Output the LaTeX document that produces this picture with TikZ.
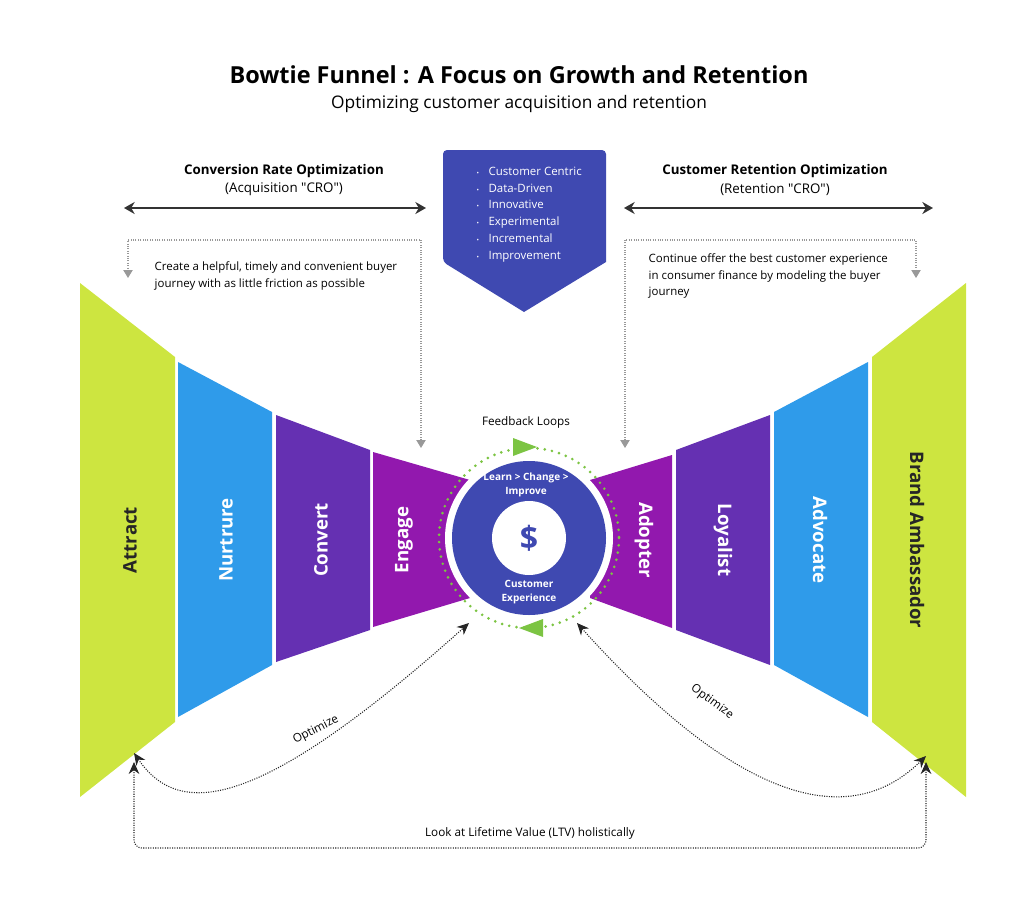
\documentclass[tikz,border=0pt]{standalone}
\usepackage{fontspec}
\setmainfont{Open Sans}
\usetikzlibrary{arrows.meta, positioning}
\definecolor{lime}{HTML}{CDE540}
\definecolor{skyb}{HTML}{2F9BEA}
\definecolor{violet}{HTML}{6530B2}
\definecolor{magen}{HTML}{9218AE}
\definecolor{indigo}{HTML}{3F49B1}
\definecolor{leaf}{HTML}{7CC443}
\tikzset{
  stage/.style={font=\bfseries\fontsize{14}{16}\selectfont, text=white, rotate=90},
  stagedark/.style={stage, text=black!85},
  stageR/.style={stage, rotate=-180},
  note/.style={font=\fontsize{8.6}{12.5}\selectfont, align=left, anchor=north west},
  head/.style={font=\fontsize{10}{14}\selectfont, align=center},
  guide/.style={gray!80, densely dotted, thick, {Triangle[length=6pt,width=7pt]}-{Triangle[length=6pt,width=7pt]}},
  loop/.style={black!85, densely dotted, thick, {Stealth[length=9pt,width=8pt]}-{Stealth[length=9pt,width=8pt]}},
  span/.style={black!80, line width=1.6pt, {Stealth[length=8pt,width=9pt]}-{Stealth[length=8pt,width=9pt]}}
}
\newcommand{\qq}{\textquotedbl}
\newcommand{\dotitem}{{\fontsize{5}{5}\selectfont\textbullet}\hspace{7pt}}
\begin{document}
\begin{tikzpicture}[x=0.75pt, y=-0.75pt]
\useasboundingbox (0,0) rectangle (1024,896);
% titles
\node (title) at (519,75) {\bfseries\fontsize{17.6}{19}\selectfont Bowtie Funnel : A Focus on Growth and Retention};
\node (sub) at (519,104) {\fontsize{13}{15}\selectfont Optimizing customer acquisition and retention};
% left funnel
\fill[lime] (80,283) -- (175,357) -- (175,722) -- (80,797) -- cycle;
\fill[skyb] (178,362) -- (272,412) -- (272,665) -- (178,717) -- cycle;
\fill[violet] (276,415) -- (370,450) -- (370,630) -- (276,662) -- cycle;
\fill[magen] (373,452) -- (470,480) -- (470,598) -- (373,627) -- cycle;
% right funnel
\fill[magen] (590,480) -- (672,455) -- (672,628) -- (590,598) -- cycle;
\fill[violet] (676,450) -- (770,415) -- (770,665) -- (676,630) -- cycle;
\fill[skyb] (774,412) -- (868,362) -- (868,717) -- (774,665) -- cycle;
\fill[lime] (872,357) -- (966,283) -- (966,797) -- (872,722) -- cycle;
\node[stagedark] (attract) at (130,540) {Attract};
\node[stage] (nurture) at (226,540) {Nurtrure};
\node[stage] (convert) at (321,540) {Convert};
\node[stage] (engage) at (404,540) {Engage};
\node[stageR] (adopter) at (644,540) {Adopter};
\node[stageR] (loyalist) at (723,540) {Loyalist};
\node[stageR] (advocate) at (820,540) {Advocate};
\node[stageR, text=black!85] (brand) at (917,540) {Brand Ambassador};
% centre hub
\fill[white] (529,538) circle (84);
\draw[leaf, line width=2.2pt, dash pattern=on 0pt off 5.5pt, line cap=round] (529,538) circle (90);
\fill[leaf] (513,438) -- (537,447) -- (513,456) -- cycle;
\fill[leaf] (543,619) -- (519,628) -- (543,637) -- cycle;
\fill[indigo] (529,538) circle (77);
\fill[white] (529,538) circle (37);
\node (fb) at (526,422) {\fontsize{8.8}{10}\selectfont Feedback Loops};
\node[text=white, align=center, font=\bfseries\fontsize{7.5}{10}\selectfont] (learn) at (526,485) {Learn > Change >\\Improve};
\node[text=indigo, font=\bfseries\fontsize{24}{26}\selectfont] (dollar) at (529,538) {\$};
\node[text=white, align=center, font=\bfseries\fontsize{7.5}{10}\selectfont] (cx) at (529,592) {Customer\\Experience};
% value badge
\fill[indigo, rounded corners=3pt] (606,262) -- (606,150) -- (443,150) -- (443,262) [sharp corners] -- (524,312) -- cycle;
\node[note, text=white, font=\fontsize{8.6}{12.7}\selectfont] (values) at (472,162)
 {\dotitem Customer Centric\\ \dotitem Data-Driven\\ \dotitem Innovative\\ \dotitem Experimental\\ \dotitem Incremental\\ \dotitem Improvement};
% headings
\node[head] (cro) at (284,180) {\bfseries Conversion Rate Optimization\\(Acquisition \qq CRO\qq)};
\node[head] (crr) at (775,180) {\bfseries Customer Retention Optimization\\(Retention \qq CRO\qq)};
\coordinate (a1) at (124,208); \coordinate (a2) at (426,208);
\coordinate (b1) at (624,208); \coordinate (b2) at (933,208);
\draw[span] (a1) -- (a2);
\draw[span] (b1) -- (b2);
% guide notes
\node[note] (tipL) at (150,257) {Create a helpful, timely and convenient buyer\\journey with as little friction as possible};
\node[note] (tipR) at (644,249) {Continue offer the best customer experience\\in consumer finance by modeling the buyer\\journey};
\coordinate (gL1) at (421,448); \coordinate (gL2) at (128,278);
\coordinate (gR1) at (625,448); \coordinate (gR2) at (916,278);
\draw[guide] (gL1) |- (270,240) -| (gL2);
\draw[guide] (gR1) |- (770,240) -| (gR2);
% optimize loops
\coordinate (oL1) at (134,753); \coordinate (oL2) at (469,623);
\coordinate (oR1) at (577,623); \coordinate (oR2) at (926,756);
\draw[loop] (oL1) .. controls (180,820) and (260,810) .. (oL2);
\draw[loop] (oR1) .. controls (700,760) and (830,850) .. (oR2);
\node[rotate=27, font=\fontsize{8.8}{10}\selectfont] (optL) at (316,730) {Optimize};
\node[rotate=-36, font=\fontsize{8.8}{10}\selectfont] (optR) at (712,702) {Optimize};
% lifetime value
\coordinate (lL) at (134,762); \coordinate (lR) at (926,762);
\draw[loop, rounded corners=6pt] (lL) -- (134,848) -- (926,848) -- (lR);
\node[font=\fontsize{8.8}{10}\selectfont] (ltv) at (530,833) {Look at Lifetime Value (LTV) holistically};
\end{tikzpicture}
\end{document}
